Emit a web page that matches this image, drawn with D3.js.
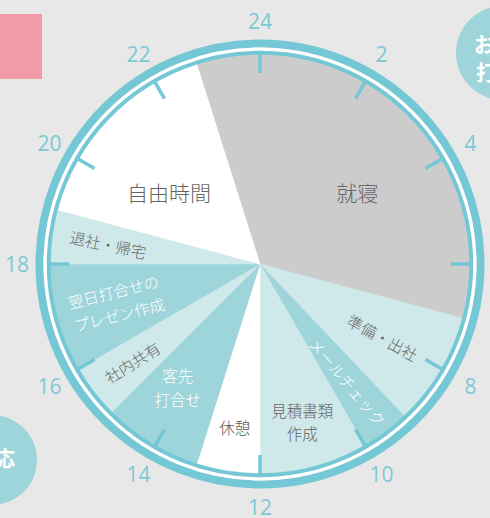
<!DOCTYPE html>
<html>
<head>
<meta charset="utf-8">
<script src="https://cdn.jsdelivr.net/npm/d3@7"></script>
<style>
  html, body { margin: 0; padding: 0; background: #e8e8e8; }
  svg { display: block; }
</style>
</head>
<body>
<svg id="chart" width="490" height="518"></svg>
<script>
// ---- data ----
const activities = ["就寝", "準備・出社", "メールチェック", "見積書類作成", "休憩", "客先打合せ", "社内共有", "翌日打合せのプレゼン作成", "退社・帰宅", "自由時間"];
const labelLines = [["就寝"], ["準備・出社"], ["メールチェック"], ["見積書類", "作成"], ["休憩"], ["客先", "打合せ"], ["社内共有"], ["翌日打合せの", "プレゼン作成"], ["退社・帰宅"], ["自由時間"]];
const durations = [8.17, 2.1, 0.9, 2, 1.17, 1.83, 1, 2, 1, 3.83]; // hours
const dayStart = 22.83; // clock hour at which the first activity (就寝) begins
const hourTicks = [2, 4, 6, 8, 10, 12, 14, 16, 18, 20, 22, 24];

// ---- styles / layout ----
const W = 490, H = 518;
const cx = 260, cy = 264;
const R = 209;
const C = { bg: "#e8e8e8", ring: "#74c7d5", sleep: "#cccccc", light: "#cfe8ea", mid: "#9dd5db", white: "#ffffff", text: "#666666", num: "#7cc8d6", pink: "#f29aa7" };
const fills = [C.sleep, C.light, C.mid, C.light, C.white, C.mid, C.light, C.mid, C.light, C.white];
const textFill = [C.text, C.text, "#ffffff", C.text, "#595959", "#ffffff", C.text, "#ffffff", C.text, C.text];
// label placement: radius, rotation, optional hour override, font size
const labelLayout = [
  { r: 121, rot: 0, hour: 3.56, size: 21 },
  { r: 143, rot: 29, size: 15.5 },
  { r: 147, rot: 50, size: 15.5 },
  { r: 163, rot: 0, size: 15.5 },
  { r: 165, rot: 0, size: 15.5 },
  { r: 148, rot: 0, hour: 14.25, size: 15.5 },
  { r: 161, rot: -32, size: 15.5 },
  { r: 149, rot: -14, size: 15.5 },
  { r: 153, rot: 12, size: 15.5 },
  { r: 116, rot: 0, hour: 20.56, size: 21 }
];
const jpFont = "'Noto Sans CJK JP', 'Noto Sans', sans-serif";

const svg = d3.select("#chart");
svg.append("rect").attr("width", W).attr("height", H).attr("fill", C.bg);

// decorative side elements (partly outside the frame, as in the reference)
svg.append("rect").attr("x", 0).attr("y", 14).attr("width", 42).attr("height", 65).attr("fill", C.pink);
svg.append("ellipse").attr("cx", 503).attr("cy", 53).attr("rx", 47).attr("ry", 47).attr("fill", C.mid);
svg.append("text").attr("x", 474).attr("y", 43).attr("dominant-baseline", "central")
  .attr("font-family", jpFont).attr("font-weight", "bold").attr("font-size", 21).attr("fill", "#fff").text("お");
svg.append("text").attr("x", 476).attr("y", 71).attr("dominant-baseline", "central")
  .attr("font-family", jpFont).attr("font-weight", "bold").attr("font-size", 21).attr("fill", "#fff").text("打");
svg.append("ellipse").attr("cx", -8).attr("cy", 460).attr("rx", 45).attr("ry", 45).attr("fill", C.mid);
svg.append("text").attr("x", -6).attr("y", 457).attr("dominant-baseline", "central")
  .attr("font-family", jpFont).attr("font-weight", "bold").attr("font-size", 21).attr("fill", "#fff").text("応");

const hourToAngle = d3.scaleLinear().domain([0, 24]).range([0, 2 * Math.PI]);

const g = svg.append("g").attr("transform", `translate(${cx},${cy})`);

// outer rings
g.append("circle").attr("r", 220.5).attr("fill", "none").attr("stroke", C.ring).attr("stroke-width", 8);
g.append("circle").attr("r", 214.5).attr("fill", "none").attr("stroke", "#fff").attr("stroke-width", 4);
g.append("circle").attr("r", R + 2).attr("fill", "none").attr("stroke", C.ring).attr("stroke-width", 4.5);

// pie
const a0 = hourToAngle(dayStart - 24);
const pie = d3.pie().sort(null).value(d => d).startAngle(a0).endAngle(a0 + 2 * Math.PI);
const arcs = pie(durations);
const arc = d3.arc().innerRadius(0).outerRadius(R);
g.selectAll("path.slice").data(arcs).enter().append("path")
  .attr("class", "slice")
  .attr("d", arc)
  .attr("fill", (d, i) => fills[i])
  .attr("stroke", (d, i) => fills[i])
  .attr("stroke-width", 0.5);

// ticks
g.selectAll("line.tick").data(hourTicks).enter().append("line")
  .attr("class", "tick")
  .each(function (h) {
    const a = hourToAngle(h);
    const s = Math.sin(a), c = -Math.cos(a);
    d3.select(this)
      .attr("x1", s * 191).attr("y1", c * 191)
      .attr("x2", s * 211).attr("y2", c * 211);
  })
  .attr("stroke", C.ring).attr("stroke-width", 3.5);

// hour labels
g.selectAll("text.hour").data(hourTicks).enter().append("text")
  .attr("class", "hour")
  .attr("x", h => Math.sin(hourToAngle(h)) * 243)
  .attr("y", h => -Math.cos(hourToAngle(h)) * 243)
  .attr("text-anchor", "middle").attr("dominant-baseline", "central")
  .attr("font-family", "'Open Sans', sans-serif").attr("font-weight", 400).attr("font-size", 21)
  .attr("fill", C.num)
  .text(h => h);

// slice labels
arcs.forEach((d, i) => {
  const L = labelLayout[i];
  const ang = L.hour !== undefined ? hourToAngle(L.hour) : (d.startAngle + d.endAngle) / 2;
  const x = Math.sin(ang) * L.r, y = -Math.cos(ang) * L.r;
  const lines = labelLines[i];
  const lh = 23.5;
  const t = g.append("g").attr("transform", `translate(${x},${y}) rotate(${L.rot})`);
  lines.forEach((ln, j) => {
    t.append("text")
      .attr("x", 0).attr("y", (j - (lines.length - 1) / 2) * lh)
      .attr("text-anchor", "middle").attr("dominant-baseline", "central")
      .attr("font-family", jpFont).attr("font-weight", 300).attr("font-size", L.size)
      .attr("fill", textFill[i])
      .text(ln);
  });
});
</script>
</body>
</html>
